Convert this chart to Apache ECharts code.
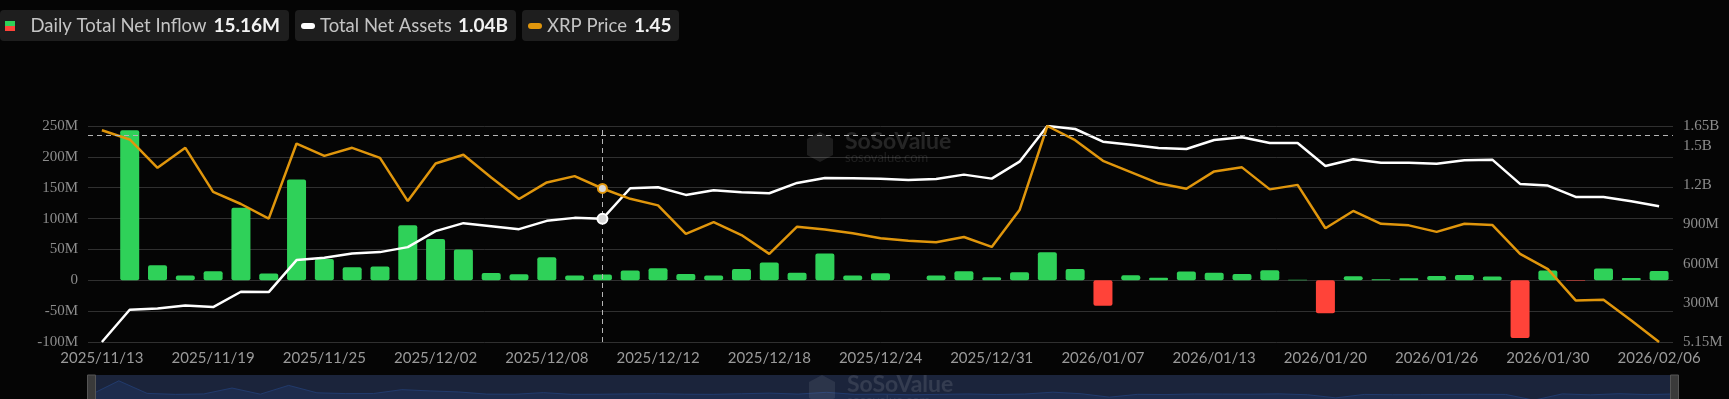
<!DOCTYPE html>
<html>
<head>
<meta charset="utf-8">
<script src="https://cdn.jsdelivr.net/npm/echarts@6/dist/echarts.min.js"></script>
<style>
    html, body { margin: 0; padding: 0; background: #050505; }
    #chart { width: 1729px; height: 399px; }
</style>
</head>
<body>
<div id="chart"></div>
<script>
// trading days shown on the axis
const dates = [
    '2025/11/13', '2025/11/14', '2025/11/17', '2025/11/18', '2025/11/19', '2025/11/20', '2025/11/21',
    '2025/11/24', '2025/11/25', '2025/11/26', '2025/11/28', '2025/12/01', '2025/12/02', '2025/12/03',
    '2025/12/04', '2025/12/05', '2025/12/08', '2025/12/09', '2025/12/10', '2025/12/11', '2025/12/12',
    '2025/12/15', '2025/12/16', '2025/12/17', '2025/12/18', '2025/12/19', '2025/12/22', '2025/12/23',
    '2025/12/24', '2025/12/26', '2025/12/29', '2025/12/30', '2025/12/31', '2026/01/02', '2026/01/05',
    '2026/01/06', '2026/01/07', '2026/01/08', '2026/01/09', '2026/01/12', '2026/01/13', '2026/01/14',
    '2026/01/15', '2026/01/16', '2026/01/20', '2026/01/21', '2026/01/22', '2026/01/23', '2026/01/26',
    '2026/01/27', '2026/01/28', '2026/01/29', '2026/01/30', '2026/02/02', '2026/02/03', '2026/02/04',
    '2026/02/06'
];

// daily total net inflow, in M
const netInflow = [
    0, 243, 24.4, 7.6, 14.6, 117.4, 10.8, 163.4, 34.6, 21.1, 22.2, 89, 67.1, 49.8, 11.9, 9.7, 37.3,
    7.6, 9.2, 15.7, 19.5, 10.3, 7.6, 18.4, 29, 12.4, 43.3, 7.6, 11.4, 0, 7.6, 14.6, 4.9, 13, 45.5,
    18.4, -41.1, 8.1, 4.3, 14.1, 12.4, 10.3, 16.2, 0.9, -53.6, 6.5, 1.6, 3.2, 7, 8.7, 6, -93.6, 15.7,
    -0.9, 18.9, 3.8, 15.16
];

// total net assets, in M
const totalNetAssets = [
    5.15, 250.8, 260.7, 283.5, 271.3, 387.7, 385.4, 628.7, 646.2, 679, 689.6, 727.6, 849.2, 910.1,
    887.3, 864.5, 927.6, 950.4, 942.8, 1176, 1183.9, 1125.3, 1161, 1145.8, 1138.2, 1216.6, 1254.6,
    1252.3, 1249.2, 1239.4, 1247, 1279.7, 1249.2, 1378.5, 1650, 1627.2, 1530.6, 1507.8, 1482.7,
    1475.1, 1543.5, 1564.1, 1520.7, 1520.7, 1345.8, 1396.8, 1371, 1371, 1363.3, 1389.2, 1393.7, 1209,
    1196, 1110, 1110, 1077.4, 1039.4
];

// XRP price, USD
const xrpPrice = [
    2.392, 2.351, 2.225, 2.314, 2.118, 2.064, 1.999, 2.333, 2.278, 2.314, 2.269, 2.077, 2.244, 2.283,
    2.182, 2.086, 2.160, 2.188, 2.133, 2.087, 2.058, 1.931, 1.983, 1.926, 1.842, 1.963, 1.951, 1.934,
    1.912, 1.901, 1.894, 1.917, 1.873, 2.037, 2.411, 2.348, 2.256, 2.206, 2.156, 2.132, 2.209, 2.227,
    2.129, 2.149, 1.956, 2.033, 1.976, 1.969, 1.940, 1.976, 1.971, 1.842, 1.774, 1.635, 1.638, 1.546,
    1.45
];

const assetLabels = [5.15, 300, 600, 900, 1200, 1500, 1650];

const legendItems = [
    { name: 'Daily Total Net Inflow', value: '15.16M' },
    { name: 'Total Net Assets', value: '1.04B' },
    { name: 'XRP Price', value: '1.45' }
];

const hoverIndex = 18;     // crosshair column
const hoverLevel = 235;    // crosshair row, on the left axis

const GREEN = '#2fd159';
const RED = '#ff4339';
const ORANGE = '#e0960c';
const GRID_LINE = '#303030';

const chart = echarts.init(document.getElementById('chart'));

// legend boxes drawn as graphics so the latest values can sit beside the names
const legendBoxes = [
    { x: 0, w: 289, textX: 30.5, valueX: 213.5 },
    { x: 295, w: 221, textX: 320, valueX: 458 },
    { x: 522, w: 157, textX: 547, valueX: 634 }
];
const legendGraphics = [];
legendItems.forEach((item, i) => {
    const box = legendBoxes[i];
    legendGraphics.push({
        type: 'rect', shape: { x: box.x, y: 10, width: box.w, height: 31, r: 4 },
        style: { fill: '#1e1e1e' }
    });
    legendGraphics.push({
        type: 'text', x: box.textX, y: 26,
        style: { text: item.name, fill: '#c4c4c4', font: '18.5px Lato', textVerticalAlign: 'middle' }
    });
    legendGraphics.push({
        type: 'text', x: box.valueX, y: 26,
        style: { text: item.value, fill: '#f2f2f2', font: 'bold 19px Lato', textVerticalAlign: 'middle' }
    });
});
legendGraphics.push(
    { type: 'rect', shape: { x: 5, y: 21, width: 10, height: 5 }, style: { fill: GREEN } },
    { type: 'rect', shape: { x: 5, y: 26, width: 10, height: 5 }, style: { fill: RED } },
    { type: 'rect', shape: { x: 301, y: 23, width: 14, height: 6, r: 3 }, style: { fill: '#ffffff' } },
    { type: 'rect', shape: { x: 528, y: 23, width: 14, height: 6, r: 3 }, style: { fill: ORANGE } }
);

// faint watermark
const watermark = (cx, cy, alpha) => ([
    {
        type: 'polygon', z: 50,
        shape: { points: [[cx, cy - 15], [cx + 13, cy - 8], [cx + 13, cy + 8], [cx, cy + 15], [cx - 13, cy + 8], [cx - 13, cy - 8]] },
        style: { fill: 'rgba(255,255,255,' + alpha + ')' }
    },
    {
        type: 'text', z: 50, x: cx + 25, y: cy - 5,
        style: { text: 'SoSoValue', fill: 'rgba(255,255,255,' + (alpha + 0.03) + ')', font: 'bold 23px Lato', textVerticalAlign: 'middle' }
    },
    {
        type: 'text', z: 50, x: cx + 25, y: cy + 11,
        style: { text: 'sosovalue.com', fill: 'rgba(255,255,255,' + alpha + ')', font: '13px Lato', textVerticalAlign: 'middle' }
    }
]);

const option = {
    backgroundColor: '#050505',
    animation: false,
    graphic: legendGraphics.concat(watermark(820, 147, 0.1), watermark(822, 390, 0.08)),
    grid: { left: 88, right: 56, top: 126, height: 216 },
    xAxis: {
        type: 'category',
        data: dates,
        boundaryGap: true,
        axisLine: { show: false },
        axisTick: { show: false },
        axisLabel: { interval: 3, color: '#9a9a9a', fontFamily: 'Lato', fontSize: 15, margin: 9 }
    },
    yAxis: [
        {
            type: 'value', min: -100, max: 250, interval: 50,
            axisLine: { show: false }, axisTick: { show: false },
            splitLine: { lineStyle: { color: GRID_LINE, width: 1 } },
            axisLabel: {
                color: '#8d8d8d', fontFamily: 'Liberation Serif', fontSize: 15, margin: 10,
                formatter: v => v === 0 ? '0' : v + 'M'
            }
        },
        {
            type: 'value', position: 'right',
            min: v => v.min, max: v => v.max,
            axisLine: { show: false }, axisTick: { show: false },
            splitLine: { show: false },
            axisLabel: {
                customValues: assetLabels,
                color: '#8d8d8d', fontFamily: 'Liberation Serif', fontSize: 15, margin: 10,
                formatter: v => v >= 1000 ? (v / 1000) + 'B' : v + 'M'
            }
        },
        {
            type: 'value', show: false,
            min: v => v.min, max: v => v.max
        }
    ],
    dataZoom: [{
        type: 'slider', xAxisIndex: 0, start: 0, end: 100,
        left: 88, right: 56, top: 375, height: 31,
        backgroundColor: '#141a27',
        fillerColor: 'rgba(30,42,68,0.7)',
        borderColor: 'transparent',
        showDetail: false,
        brushSelect: false,
        moveHandleSize: 0,
        handleIcon: 'path://M2,0 h4 v4 h2 v27 h-8 v-27 h2 z',
        handleSize: '100%',
        handleStyle: { color: '#3a3a3a', borderColor: '#555' },
        dataBackground: {
            lineStyle: { color: '#2a62c8', width: 1 },
            areaStyle: { color: '#1d3462', opacity: 1 }
        },
        selectedDataBackground: {
            lineStyle: { color: '#2a62c8', width: 1 },
            areaStyle: { color: '#1d3462', opacity: 1 }
        }
    }],
    series: [
        {
            name: 'Daily Total Net Inflow',
            type: 'bar',
            data: netInflow,
            barWidth: 19,
            itemStyle: {
                borderRadius: 2,
                color: p => p.value < 0 ? RED : GREEN
            },
            markLine: {
                silent: true,
                symbol: 'none',
                label: { show: false },
                lineStyle: { color: '#b5b5b5', type: [5, 4], width: 1 },
                data: [{ xAxis: dates[hoverIndex] }, { yAxis: hoverLevel }]
            }
        },
        {
            name: 'Total Net Assets',
            type: 'line',
            yAxisIndex: 1,
            data: totalNetAssets,
            symbol: 'none',
            lineStyle: { color: '#ffffff', width: 2.5 },
            markPoint: {
                symbol: 'circle', symbolSize: 10, label: { show: false },
                itemStyle: { color: '#d8d8d8', borderColor: '#ffffff', borderWidth: 2 },
                data: [{ coord: [dates[hoverIndex], totalNetAssets[hoverIndex]] }]
            }
        },
        {
            name: 'XRP Price',
            type: 'line',
            yAxisIndex: 2,
            data: xrpPrice,
            symbol: 'none',
            lineStyle: { color: ORANGE, width: 2.5 },
            markPoint: {
                symbol: 'circle', symbolSize: 9, label: { show: false },
                itemStyle: { color: '#d8d8d8', borderColor: ORANGE, borderWidth: 2 },
                data: [{ coord: [dates[hoverIndex], xrpPrice[hoverIndex]] }]
            }
        }
    ]
};

chart.setOption(option);
</script>
</body>
</html>
